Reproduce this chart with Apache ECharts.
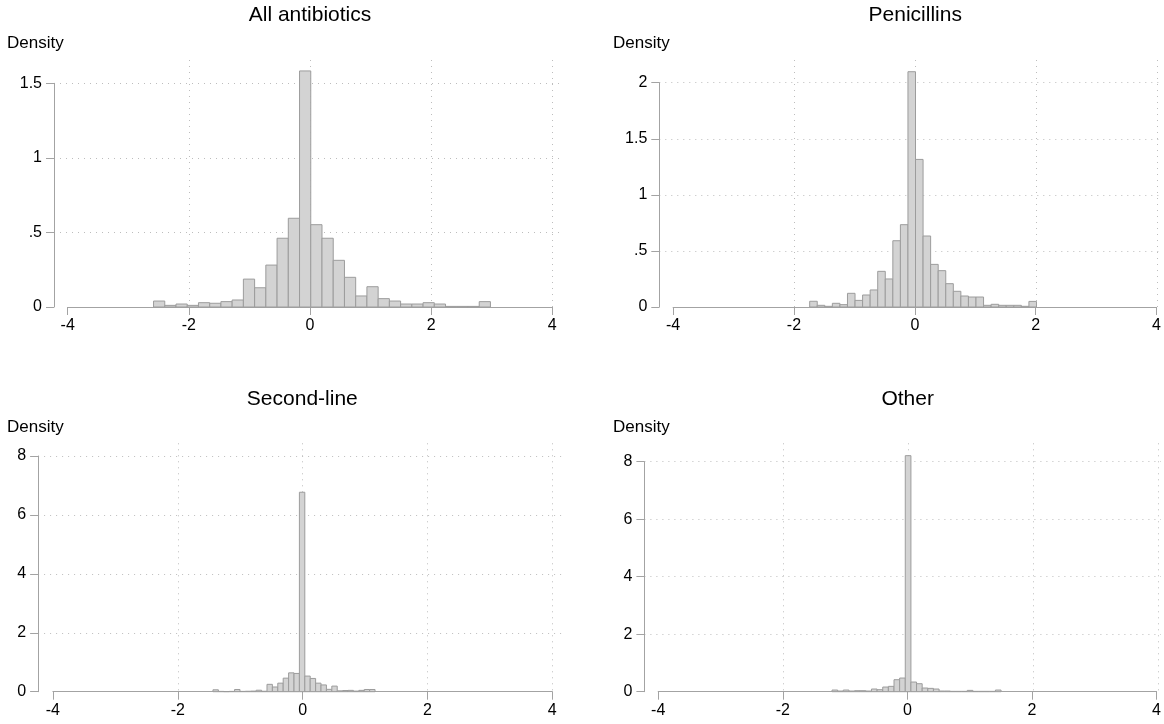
<!DOCTYPE html>
<html>
<head>
<meta charset="utf-8">
<script src="https://cdn.jsdelivr.net/npm/echarts@6/dist/echarts.min.js"></script>
<style>
html,body{margin:0;padding:0;background:#fff;}
#chart{width:1164px;height:724px;}
</style>
</head>
<body>
<div id="chart"></div>
<script>
// ---------- data ----------
const panelTitles = ['All antibiotics', 'Penicillins', 'Second-line', 'Other'];
const yAxisName = 'Density';
const xTickLabels = ['-4', '-2', '0', '2', '4'];
const xMin = -4, xMax = 4, xStep = 2;

const yTicksAll = ['0', '.5', '1', '1.5'];
const yTicksPen = ['0', '.5', '1', '1.5', '2'];
const yTicksSecond = ['0', '2', '4', '6', '8'];
const yTicksOther = ['0', '2', '4', '6', '8'];
const yStepAll = 0.5, yStepPen = 0.5, yStepSecond = 2, yStepOther = 2;

// histogram bins: first bin start, bin width, densities
const allStart = -2.583, allWidth = 0.1854;
const allDensity = [0.040, 0.011, 0.020, 0.011, 0.029, 0.025, 0.036, 0.047, 0.187, 0.129,
  0.281, 0.461, 0.595, 1.583, 0.552, 0.461, 0.313, 0.199, 0.074, 0.136,
  0.056, 0.040, 0.020, 0.020, 0.029, 0.020, 0.004, 0.004, 0.004, 0.036];

const penStart = -1.74, penWidth = 0.1251;
const penDensity = [0.051, 0.015, 0.006, 0.033, 0.021, 0.122, 0.059, 0.107, 0.152, 0.318,
  0.250, 0.591, 0.734, 2.098, 1.316, 0.633, 0.380, 0.324, 0.208, 0.140,
  0.098, 0.089, 0.089, 0.015, 0.024, 0.015, 0.015, 0.015, 0.006, 0.050];

const secStart = -1.436, secWidth = 0.08655;
const secDensity = [0.065, 0.010, 0.004, 0.010, 0.075, 0.010, 0.015, 0.020, 0.050, 0.015,
  0.250, 0.160, 0.290, 0.460, 0.640, 0.620, 6.77, 0.530, 0.450, 0.290,
  0.230, 0.080, 0.190, 0.030, 0.040, 0.045, 0.020, 0.045, 0.075, 0.075];

const othStart = -1.2096, othWidth = 0.09045;
const othDensity = [0.058, 0.023, 0.058, 0.023, 0.035, 0.035, 0.023, 0.093, 0.070, 0.162,
  0.186, 0.417, 0.475, 8.21, 0.336, 0.278, 0.128, 0.116, 0.093, 0.023,
  0.023, 0.012, 0.012, 0.012, 0.046, 0.012, 0.012, 0.012, 0.012, 0.058];

// ---------- layout & style ----------
const FONT = '"Liberation Sans", Arial, Helvetica, sans-serif';
const AXIS_C = '#a3a3a3';
const GRID_C = '#bdbdbd';
const BAR_FILL = '#d3d3d3';
const BAR_EDGE = '#9c9c9c';

const panels = [
  { title: panelTitles[0], ticks: yTicksAll, yStep: yStepAll, start: allStart, width: allWidth, dens: allDensity,
    L: { x0: 67.7, x1: 552.3, y0: 307, y1: 83.3, yAxisX: 54, hRight: 560.5, vTop: 60 },
    T: { cx: 310, cy: 15, dx: 7, dy: 43.3 } },
  { title: panelTitles[1], ticks: yTicksPen, yStep: yStepPen, start: penStart, width: penWidth, dens: penDensity,
    L: { x0: 673.1, x1: 1157.3, y0: 307, y1: 82.7, yAxisX: 659.3, hRight: 1161, vTop: 60 },
    T: { cx: 915.2, cy: 15, dx: 613, dy: 43.3 } },
  { title: panelTitles[2], ticks: yTicksSecond, yStep: yStepSecond, start: secStart, width: secWidth, dens: secDensity,
    L: { x0: 52.9, x1: 552.3, y0: 691.7, y1: 456, yAxisX: 38.1, hRight: 566, vTop: 443.3 },
    T: { cx: 302.3, cy: 399.2, dx: 7, dy: 427.5 } },
  { title: panelTitles[3], ticks: yTicksOther, yStep: yStepOther, start: othStart, width: othWidth, dens: othDensity,
    L: { x0: 658.2, x1: 1158, y0: 691.7, y1: 461.7, yAxisX: 644.4, hRight: 1161, vTop: 443.3 },
    T: { cx: 907.7, cy: 399.2, dx: 613, dy: 427.5 } }
];

const grids = [], xAxes = [], yAxes = [], series = [], titles = [];
const dotted = { color: GRID_C, width: 1, type: [1, 5] };

panels.forEach(p => {
  const L = p.L;
  const yMax = (p.ticks.length - 1) * p.yStep;
  const yPx = v => L.y0 - v / yMax * (L.y0 - L.y1);
  const xPx = v => L.x0 + (v - xMin) / (xMax - xMin) * (L.x1 - L.x0);

  // vertical dotted grid lines (from -2 to 4), extending above top tick
  let gi = grids.length;
  grids.push({ left: xPx(-2), top: L.vTop, width: L.x1 - xPx(-2), height: L.y0 - L.vTop });
  xAxes.push({ type: 'value', gridIndex: gi, min: -2, max: xMax, interval: xStep,
    axisLine: { show: false, onZero: false }, axisTick: { show: false }, axisLabel: { show: false },
    splitLine: { show: true, lineStyle: dotted } });
  yAxes.push({ type: 'value', gridIndex: gi, min: 0, max: 1, show: false, axisLine: { onZero: false } });

  // horizontal dotted grid lines, from the y axis line to the plot region edge
  gi = grids.length;
  grids.push({ left: L.yAxisX, top: L.y1, width: L.hRight - L.yAxisX, height: yPx(p.yStep) - L.y1 });
  xAxes.push({ type: 'value', gridIndex: gi, min: 0, max: 1, show: false, axisLine: { onZero: false } });
  yAxes.push({ type: 'value', gridIndex: gi, min: p.yStep, max: yMax, interval: p.yStep,
    axisLine: { show: false, onZero: false }, axisTick: { show: false }, axisLabel: { show: false },
    splitLine: { show: true, lineStyle: dotted } });

  // main grid with axes and bars
  gi = grids.length;
  grids.push({ left: L.x0, top: L.y1, width: L.x1 - L.x0, height: L.y0 - L.y1 });
  xAxes.push({ type: 'value', gridIndex: gi, min: xMin, max: xMax, interval: xStep,
    axisLine: { show: true, onZero: false, lineStyle: { color: AXIS_C, width: 1 } },
    axisTick: { show: true, length: 8, lineStyle: { color: AXIS_C, width: 1 } },
    axisLabel: { show: true, margin: 11, color: '#000', fontSize: 16, fontFamily: FONT,
      formatter: v => xTickLabels[Math.round((v - xMin) / xStep)] },
    splitLine: { show: false } });
  yAxes.push({ type: 'value', gridIndex: gi, min: 0, max: yMax, interval: p.yStep,
    offset: L.x0 - L.yAxisX,
    axisLine: { show: true, onZero: false, lineStyle: { color: AXIS_C, width: 1 } },
    axisTick: { show: true, length: 8, lineStyle: { color: AXIS_C, width: 1 } },
    axisLabel: { show: true, margin: 12, color: '#000', fontSize: 16, fontFamily: FONT,
      formatter: v => p.ticks[Math.round(v / p.yStep)] },
    splitLine: { show: false } });

  series.push({
    type: 'custom', xAxisIndex: gi, yAxisIndex: gi, silent: true, clip: false,
    data: p.dens.map((d, i) => [p.start + i * p.width, p.start + (i + 1) * p.width, d]),
    encode: { x: [0, 1], y: 2 },
    renderItem: (params, api) => {
      const a = api.coord([api.value(0), 0]);
      const b = api.coord([api.value(1), api.value(2)]);
      return { type: 'rect',
        shape: { x: a[0], y: b[1], width: b[0] - a[0], height: a[1] - b[1] },
        style: { fill: BAR_FILL, stroke: BAR_EDGE, lineWidth: 1 } };
    }
  });

  titles.push({ text: p.title, left: p.T.cx, top: p.T.cy - 10.5, textAlign: 'center', padding: 0,
    textStyle: { fontFamily: FONT, fontSize: 21, fontWeight: 'normal', color: '#000' } });
  titles.push({ text: yAxisName, left: p.T.dx, top: p.T.dy - 8.5, padding: 0,
    textStyle: { fontFamily: FONT, fontSize: 17, fontWeight: 'normal', color: '#000' } });
});

const chart = echarts.init(document.getElementById('chart'), null, { renderer: 'canvas' });
chart.setOption({
  animation: false,
  backgroundColor: '#fff',
  title: titles,
  grid: grids,
  xAxis: xAxes,
  yAxis: yAxes,
  series: series
});
</script>
</body>
</html>
